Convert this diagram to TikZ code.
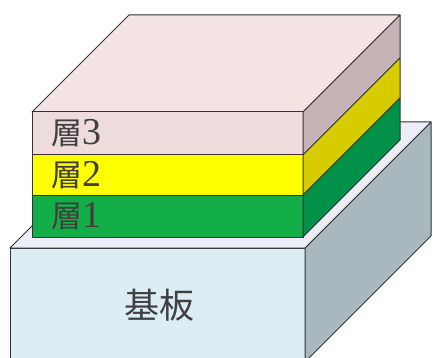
\documentclass[tikz,border=0pt]{standalone}
\usepackage{fontspec}
\setmainfont{Liberation Serif}
\newfontfamily\cjk{Noto Sans CJK JP}
\definecolor{pinktop}{HTML}{F3E3E3}
\definecolor{pinkfront}{HTML}{EEDCDC}
\definecolor{pinkside}{HTML}{C6B3B6}
\definecolor{yelfront}{HTML}{FFFF00}
\definecolor{yelside}{HTML}{D6CC00}
\definecolor{grnfront}{HTML}{14AE48}
\definecolor{grnside}{HTML}{009048}
\definecolor{subfront}{HTML}{DCEEF4}
\definecolor{subside}{HTML}{A9B8BF}
\definecolor{subtop}{HTML}{ECEDF7}

\begin{document}
\begin{tikzpicture}
[x=1pt,y=-1pt,
face/.style={draw=black!80,line width=1pt,line join=round},
layer name/.style={anchor=west,inner sep=0pt,text=black!75,font=\fontsize{31}{31}\selectfont}]
\useasboundingbox (0,0) rectangle (433,358);
\clip (0,0) rectangle (433,358);
% substrate block
\filldraw[face,fill=subfront] (10,248) rectangle (305,362);
\filldraw[face,fill=subside] (305,248) -- (431,122) -- (431,236) -- (305,362) -- cycle;
\filldraw[face,fill=subtop] (10,248) -- (136,122) -- (431,122) -- (305,248) -- cycle;
\node[text=black!75,font=\fontsize{35}{35}\selectfont] (substrate) at (159,305) {\cjk 基板};
% three layers, top face first
\filldraw[face,fill=pinktop] (32,112) -- (129,15) -- (400,15) -- (303,112) -- cycle;
\foreach \top/\bot/\n/\fc/\sc in {112/155/3/pinkfront/pinkside,
  155/195/2/yelfront/yelside,195/237/1/grnfront/grnside}
{
\filldraw[face,fill=\fc] (32,\top) rectangle (303,\bot);
\filldraw[face,fill=\sc] (303,\top) -- (400,\top-97) -- (400,\bot-97) -- (303,\bot) -- cycle;
\node[layer name] (layer \n) at (51,{(\top+\bot)/2}) {{\cjk 層}{\fontsize{38}{38}\selectfont\n}};
}
\end{tikzpicture}
\end{document}
